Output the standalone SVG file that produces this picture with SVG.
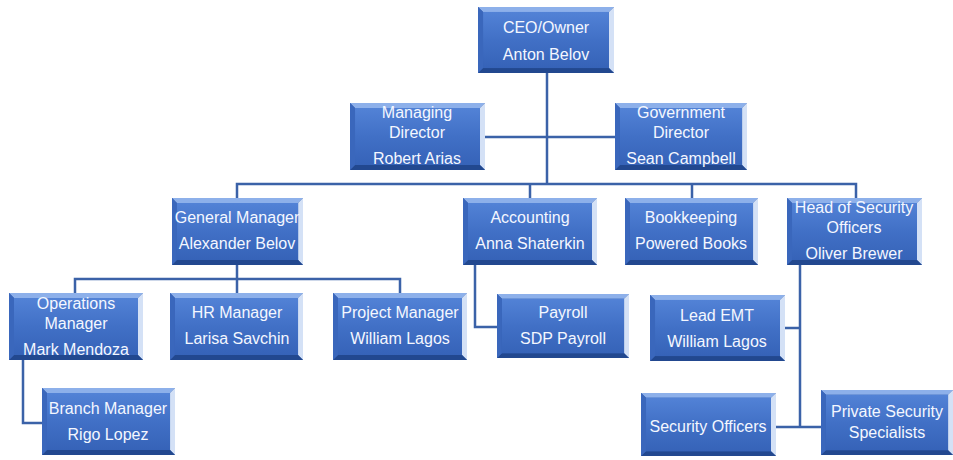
<svg xmlns="http://www.w3.org/2000/svg" xmlns:xlink="http://www.w3.org/1999/xlink" width="953" height="460" viewBox="0 0 953 460">
<defs>
<linearGradient id="face" x1="0" y1="0" x2="0" y2="1">
<stop offset="0" stop-color="#5282D6"/>
<stop offset="0.5" stop-color="#4170C6"/>
<stop offset="1" stop-color="#3663B8"/>
</linearGradient>
<symbol id="box" viewBox="0 0 134 67" preserveAspectRatio="none">
<rect x="0" y="0" width="134" height="67" fill="#2F5AAA"/>
<polygon points="0,0 134,0 129,5 5,5" fill="#8DB0EA"/>
<polygon points="134,0 134,67 129,62 129,5" fill="#D4E1F6"/>
<polygon points="0,67 134,67 129,62 5,62" fill="#22488F"/>
<polygon points="0,0 5,5 5,62 0,67" fill="#3A67BC"/>
<rect x="5" y="5" width="124" height="57" fill="url(#face)"/>
</symbol>
</defs>
<style>
.t{font-family:"Liberation Sans",Arial,sans-serif;font-size:16px;fill:#F4F7FF;text-anchor:middle}
.c{fill:none;stroke:#3B62A8;stroke-width:2.5}
</style>
<rect width="953" height="460" fill="#FFFFFF"/>
<g id="connectors">
<path class="c" d="M547,73V184"/>
<path class="c" d="M485,137H615"/>
<path class="c" d="M237,198V184H856V198M530,184V198M692,184V198"/>
<path class="c" d="M237,265V279M75,293V279H400V293M237,279V293"/>
<path class="c" d="M23,360V423H42"/>
<path class="c" d="M475,265V327H497"/>
<path class="c" d="M800,265V427M785,328H800M775,427H821"/>
</g>
<g id="ceo"><use xlink:href="#box" x="478" y="7" width="136" height="66"/><text class="t" x="546" y="33">CEO/Owner</text><text class="t" x="546" y="60">Anton Belov</text></g>
<g id="managing"><use xlink:href="#box" x="350" y="103" width="135" height="67"/><text class="t" x="417" y="118">Managing</text><text class="t" x="417" y="138">Director</text><text class="t" x="417" y="164">Robert Arias</text></g>
<g id="government"><use xlink:href="#box" x="615" y="103" width="132" height="67"/><text class="t" x="681" y="118">Government</text><text class="t" x="681" y="138">Director</text><text class="t" x="681" y="164">Sean Campbell</text></g>
<g id="general"><use xlink:href="#box" x="172" y="198" width="131" height="67"/><text class="t" x="237" y="223">General Manager</text><text class="t" x="237" y="249">Alexander Belov</text></g>
<g id="accounting"><use xlink:href="#box" x="463" y="198" width="134" height="67"/><text class="t" x="530" y="223">Accounting</text><text class="t" x="530" y="249">Anna Shaterkin</text></g>
<g id="bookkeeping"><use xlink:href="#box" x="625" y="198" width="133" height="67"/><text class="t" x="691" y="223">Bookkeeping</text><text class="t" x="691" y="249">Powered Books</text></g>
<g id="headsecurity"><use xlink:href="#box" x="787" y="198" width="135" height="67"/><text class="t" x="854" y="213">Head of Security</text><text class="t" x="854" y="233">Officers</text><text class="t" x="854" y="259">Oliver Brewer</text></g>
<g id="operations"><use xlink:href="#box" x="9" y="293" width="134" height="67"/><text class="t" x="76" y="309">Operations</text><text class="t" x="76" y="329">Manager</text><text class="t" x="76" y="355">Mark Mendoza</text></g>
<g id="hr"><use xlink:href="#box" x="170" y="293" width="133" height="67"/><text class="t" x="237" y="318">HR Manager</text><text class="t" x="237" y="344">Larisa Savchin</text></g>
<g id="project"><use xlink:href="#box" x="333" y="293" width="134" height="67"/><text class="t" x="400" y="318">Project Manager</text><text class="t" x="400" y="344">William Lagos</text></g>
<g id="payroll"><use xlink:href="#box" x="497" y="294" width="132" height="64"/><text class="t" x="563" y="318">Payroll</text><text class="t" x="563" y="344">SDP Payroll</text></g>
<g id="leademt"><use xlink:href="#box" x="650" y="295" width="135" height="66"/><text class="t" x="717" y="321">Lead EMT</text><text class="t" x="717" y="347">William Lagos</text></g>
<g id="branch"><use xlink:href="#box" x="42" y="388" width="133" height="67"/><text class="t" x="108" y="414">Branch Manager</text><text class="t" x="108" y="440">Rigo Lopez</text></g>
<g id="secofficers"><use xlink:href="#box" x="641" y="393" width="135" height="63"/><text class="t" x="708" y="432">Security Officers</text></g>
<g id="private"><use xlink:href="#box" x="821" y="390" width="132" height="65"/><text class="t" x="887" y="417">Private Security</text><text class="t" x="887" y="438">Specialists</text></g>
</svg>
